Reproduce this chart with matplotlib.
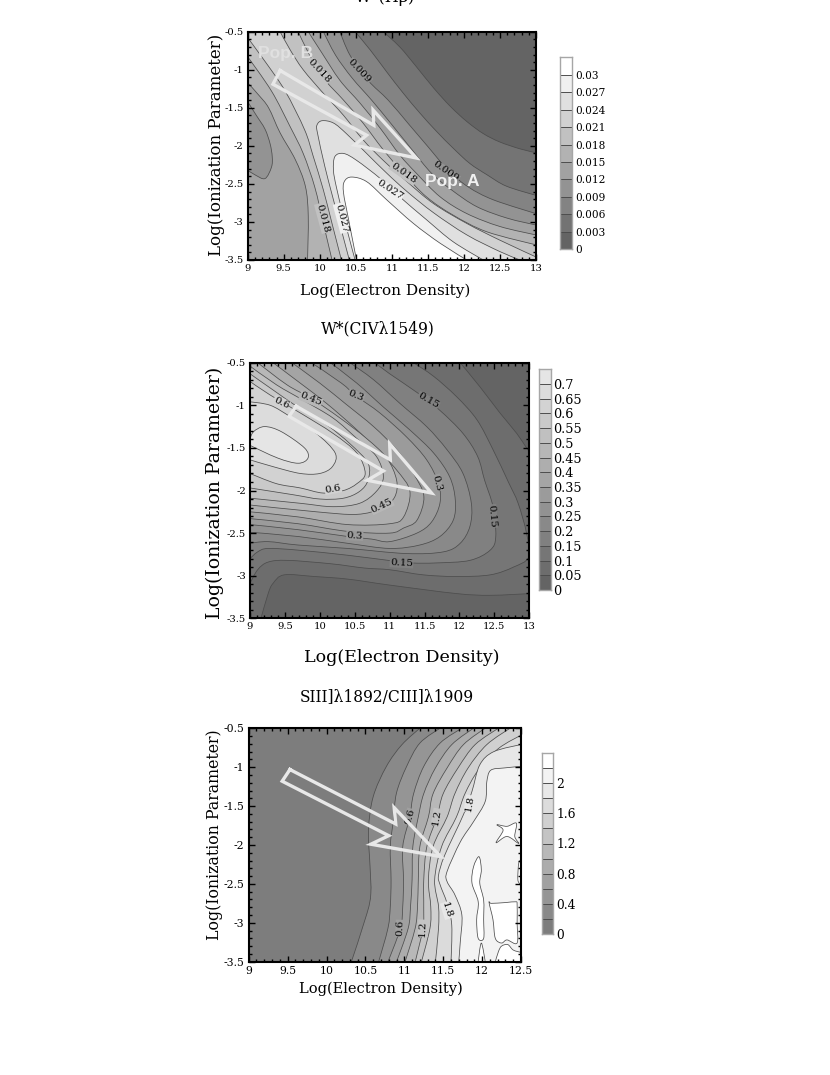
import numpy as np
import matplotlib
matplotlib.use("Agg")
import matplotlib.pyplot as plt
from matplotlib.patches import PathPatch
from matplotlib.path import Path
from matplotlib.ticker import AutoMinorLocator

plt.rcParams["font.family"] = ["DejaVu Serif"]

FIG_W, FIG_H = 830, 1075

y_ticks = [-0.5, -1, -1.5, -2, -2.5, -3, -3.5]
y_tick_labels = ["-0.5", "-1", "-1.5", "-2", "-2.5", "-3", "-3.5"]

# ---- W*(Hb) contours, each traced as the outline of the region >= level
hb_003 = [(10.88,-.5),(11.11,-.70),(11.34,-.96),(11.58,-1.24),(11.81,-1.48),(12.04,-1.68),(12.27,-1.84),(12.5,-1.95),(12.78,-2.04),(13,-2.09),(13,-3.5),(9,-3.5),(9,-.5)]
hb_006 = [(10.49,-.5),(10.70,-.74),(10.93,-1.03),(11.16,-1.31),(11.39,-1.57),(11.62,-1.81),(11.85,-2.03),(12.08,-2.23),(12.32,-2.38),(12.59,-2.53),(13,-2.65),(13,-3.5),(9,-3.5),(9,-.5)]
hb_009 = [(10.28,-.5),(10.42,-.81),(10.67,-1.14),(10.95,-1.40),(11.23,-1.71),(11.50,-2.01),(11.78,-2.32),(12.06,-2.54),(12.41,-2.71),(13,-2.89),(13,-3.5),(9,-3.5),(9,-.5)]
hb_012 = [(10.05,-.5),(10.22,-.81),(10.45,-1.11),(10.72,-1.40),(10.99,-1.71),(11.27,-2.04),(11.55,-2.36),(11.83,-2.58),(12.18,-2.80),(12.6,-2.95),(13,-3.04),(13,-3.5),(9,-3.5),(9,-.5)]
hb_lobe = [(9,-1.42),(9.12,-1.6),(9.24,-1.78),(9.31,-1.97),(9.34,-2.14),(9.33,-2.28),(9.24,-2.43),(9.1,-2.38),(9,-2.32)]
hb_015 = [(9,-1.17),(9.15,-1.33),(9.29,-1.50),(9.45,-1.83),(9.66,-2.18),(9.80,-2.53),(9.84,-2.92),(9.83,-3.5),(13,-3.5),(13,-3.17),(12.5,-3.06),(12.04,-2.89),(11.67,-2.67),(11.34,-2.36),(11.11,-2.12),(10.84,-1.77),(10.56,-1.44),(10.28,-1.14),(10.03,-.78),(9.84,-.5),(9,-.5)]
hb_018 = [(9,-.83),(9.33,-1.28),(9.59,-1.75),(9.77,-2.10),(9.93,-2.54),(10.05,-3.02),(10.17,-3.5),(13,-3.5),(13,-3.30),(12.32,-3.13),(11.85,-2.91),(11.48,-2.67),(11.16,-2.36),(10.88,-2.05),(10.60,-1.70),(10.33,-1.40),(10.05,-1.11),(9.86,-.81),(9.70,-.5),(9,-.5)]
hb_021 = [(9,-.58),(9.24,-.89),(9.52,-1.28),(9.79,-1.79),(9.91,-2.14),(10.05,-2.58),(10.17,-3.02),(10.30,-3.5),(13,-3.5),(13,-3.46),(12.5,-3.24),(12.04,-3.02),(11.58,-2.76),(11.21,-2.47),(10.88,-2.19),(10.60,-1.92),(10.33,-1.60),(10.05,-1.31),(9.77,-1.0),(9.59,-.74),(9.45,-.5),(9,-.5)]
hb_024 = [(10.41,-3.5),(10.19,-2.71),(10.07,-2.27),(9.97,-1.84),(9.96,-1.73),(10.03,-1.67),(10.19,-1.70),(10.37,-1.84),(10.65,-2.10),(10.93,-2.36),(11.21,-2.60),(11.58,-2.88),(12.04,-3.17),(12.5,-3.39),(12.78,-3.5)]
hb_027 = [(10.49,-3.5),(10.33,-2.93),(10.23,-2.54),(10.19,-2.32),(10.21,-2.14),(10.33,-2.10),(10.51,-2.19),(10.84,-2.43),(11.11,-2.67),(11.48,-2.97),(11.85,-3.26),(12.27,-3.5)]
hb_030 = [(10.51,-3.5),(10.40,-2.97),(10.33,-2.62),(10.34,-2.47),(10.44,-2.41),(10.65,-2.47),(10.93,-2.71),(11.30,-3.02),(11.67,-3.28),(12.04,-3.5)]
hb_levels = [0.003, 0.006, 0.009, 0.012, 0.009, 0.015, 0.018, 0.021, 0.024, 0.027, 0.030]
hb_shapes = [hb_003, hb_006, hb_009, hb_012, hb_lobe, hb_015, hb_018, hb_021, hb_024, hb_027, hb_030]
hb_arrow = [(9.45,-1.01),(9.35,-1.19),(10.65,-1.86),(10.48,-1.99),(11.34,-2.16),(10.74,-1.53),(10.75,-1.73)]
hb_label_text = ["0.018", "0.009", "0.018", "0.009", "0.027", "0.018", "0.027"]
hb_label_x = [9.99, 10.55, 11.16, 11.75, 10.97, 10.04, 10.30]
hb_label_y = [-1.02, -1.02, -2.36, -2.34, -2.58, -2.95, -2.95]
hb_label_rot = [-47, -47, -35, -35, -33, -75, -75]
hb_bar_ticks = [0, .003, .006, .009, .012, .015, .018, .021, .024, .027, .03]
hb_bar_labels = ["0", "0.003", "0.006", "0.009", "0.012", "0.015", "0.018", "0.021", "0.024", "0.027", "0.03"]
hb_x_ticks = [9, 9.5, 10, 10.5, 11, 11.5, 12, 12.5, 13]
hb_x_labels = ["9", "9.5", "10", "10.5", "11", "11.5", "12", "12.5", "13"]

# ---- W*(CIV) contours
civ_05 = [(12.01,-.5),(12.29,-.78),(12.58,-1.09),(12.82,-1.33),(12.96,-1.5),(13,-1.54),(13,-3.21),(12.44,-3.23),(11.96,-3.21),(11,-3.11),(10.40,-3.04),(9.93,-3.01),(9.49,-2.99),(9.33,-3.09),(9.26,-3.21),(9.16,-3.49),(9.15,-3.5),(9,-3.5),(9,-.5)]
civ_10 = [(11.34,-.5),(11.63,-.66),(11.96,-.90),(12.25,-1.17),(12.48,-1.52),(12.70,-1.90),(12.84,-2.15),(12.96,-2.50),(12.99,-2.78),(12.77,-2.90),(12.44,-2.99),(11.96,-3.01),(11.48,-2.99),(11.0,-2.93),(10.64,-2.91),(10.16,-2.86),(9.54,-2.82),(9.26,-2.84),(9.11,-2.93),(9,-3.09),(9,-.5)]
civ_15 = [(10.79,-.5),(11,-.63),(11.41,-.86),(11.72,-1.06),(12.05,-1.33),(12.26,-1.60),(12.36,-1.88),(12.48,-2.19),(12.52,-2.54),(12.44,-2.70),(12.15,-2.82),(11.67,-2.85),(11.31,-2.85),(10.98,-2.82),(10.40,-2.76),(9.69,-2.70),(9.26,-2.68),(9.11,-2.72),(9,-2.80),(9,-.5)]
civ_20 = [(10.43,-.5),(10.77,-.70),(11.15,-.98),(11.53,-1.25),(11.82,-1.52),(12.05,-1.80),(12.17,-2.15),(12.15,-2.42),(12.01,-2.62),(11.77,-2.72),(11.24,-2.74),(10.40,-2.68),(9.69,-2.64),(9.26,-2.60),(9,-2.62),(9,-.5)]
civ_25 = [(10.15,-.5),(10.53,-.74),(10.91,-1.02),(11.29,-1.29),(11.63,-1.56),(11.86,-1.84),(11.94,-2.11),(11.91,-2.35),(11.72,-2.54),(11.43,-2.64),(11,-2.68),(10.40,-2.62),(9.69,-2.54),(9,-2.49),(9,-.5)]
civ_30 = [(9.88,-.5),(10.31,-.74),(10.52,-.89),(10.86,-1.09),(11.24,-1.37),(11.53,-1.64),(11.70,-1.92),(11.72,-2.15),(11.60,-2.37),(11.39,-2.50),(11,-2.60),(10.74,-2.57),(10.40,-2.54),(9.69,-2.46),(9,-2.40),(9,-.5)]
civ_35 = [(9.60,-.5),(10,-.74),(10.38,-.99),(10.77,-1.25),(11.10,-1.52),(11.34,-1.80),(11.49,-2.07),(11.39,-2.35),(11.20,-2.44),(11,-2.50),(10.40,-2.48),(9.69,-2.39),(9,-2.33),(9,-.5)]
civ_40 = [(9.33,-.5),(9.72,-.74),(10.10,-.98),(10.48,-1.25),(10.81,-1.51),(11.10,-1.76),(11.29,-2.01),(11.20,-2.31),(11,-2.39),(10.40,-2.40),(9.69,-2.31),(9,-2.25),(9,-.5)]
civ_45 = [(9.11,-.5),(9.53,-.76),(9.88,-.92),(10.29,-1.15),(10.67,-1.39),(10.96,-1.62),(11.10,-1.88),(11.07,-2.08),(10.88,-2.21),(10.53,-2.28),(9.95,-2.25),(9,-2.17),(9,-.5)]
civ_50 = [(9,-.54),(9.38,-.76),(9.76,-.94),(10.19,-1.15),(10.53,-1.39),(10.81,-1.60),(10.91,-1.84),(10.81,-2.01),(10.57,-2.15),(10.19,-2.19),(9.72,-2.15),(9,-2.09)]
civ_55 = [(9,-.63),(9.33,-.82),(9.72,-1.04),(10.10,-1.23),(10.43,-1.45),(10.69,-1.68),(10.69,-1.88),(10.57,-2.01),(10.34,-2.09),(10,-2.10),(9.62,-2.05),(9,-1.97)]
civ_60 = [(9,-.72),(9.29,-.88),(9.72,-1.09),(10.19,-1.33),(10.53,-1.56),(10.65,-1.80),(10.53,-1.92),(10.34,-2.0),(10.05,-2.03),(9.72,-1.97),(9.38,-1.92),(9,-1.80)]
civ_65 = [(9,-.96),(9.29,-1.0),(9.57,-1.13),(9.95,-1.33),(10.22,-1.56),(10.18,-1.72),(10,-1.80),(9.72,-1.80),(9.33,-1.72),(9,-1.64)]
civ_70 = [(9,-1.40),(9.05,-1.31),(9.21,-1.25),(9.45,-1.31),(9.78,-1.50),(9.83,-1.62),(9.69,-1.68),(9.40,-1.62),(9,-1.47)]
civ_levels = [.05, .1, .15, .2, .25, .3, .35, .4, .45, .5, .55, .6, .65, .7]
civ_shapes = [civ_05, civ_10, civ_15, civ_20, civ_25, civ_30, civ_35, civ_40, civ_45, civ_50, civ_55, civ_60, civ_65, civ_70]
civ_arrow = [(9.66,-1.01),(9.56,-1.13),(10.91,-1.77),(10.68,-1.88),(11.60,-2.03),(11.0,-1.45),(11.01,-1.64)]
civ_label_text = ["0.15", "0.15", "0.15", "0.3", "0.3", "0.3", "0.45", "0.45", "0.6", "0.6"]
civ_label_x = [11.55, 11.17, 12.47, 10.52, 10.5, 11.68, 9.87, 10.89, 9.45, 10.19]
civ_label_y = [-.95, -2.85, -2.30, -.89, -2.53, -1.91, -.93, -2.18, -.97, -1.98]
civ_label_rot = [-30, -3, -85, -22, -3, -75, -22, 25, -25, 10]
civ_bar_ticks = [0, .05, .1, .15, .2, .25, .3, .35, .4, .45, .5, .55, .6, .65, .7]
civ_bar_labels = ["0", "0.05", "0.1", "0.15", "0.2", "0.25", "0.3", "0.35", "0.4", "0.45", "0.5", "0.55", "0.6", "0.65", "0.7"]

# ---- SiIII]/CIII] contours
si_02 = [(11.2,-.5),(10.97,-.71),(10.77,-.99),(10.60,-1.38),(10.54,-1.81),(10.56,-2.28),(10.57,-2.62),(10.52,-2.88),(10.32,-3.5),(12.5,-3.5),(12.5,-.5)]
si_04 = [(11.46,-.5),(11.2,-.69),(11.03,-.99),(10.9,-1.33),(10.86,-1.68),(10.82,-2.02),(10.83,-2.45),(10.82,-2.79),(10.79,-3.07),(10.67,-3.5),(12.5,-3.5),(12.5,-.5)]
si_06 = [(11.74,-.5),(11.46,-.69),(11.25,-.99),(11.12,-1.34),(11.07,-1.64),(10.98,-2.02),(10.99,-2.45),(10.98,-2.79),(10.95,-3.07),(10.79,-3.5),(12.5,-3.5),(12.5,-.5)]
si_08 = [(11.89,-.5),(11.61,-.71),(11.4,-1.01),(11.25,-1.34),(11.18,-1.64),(11.11,-2.02),(11.1,-2.45),(11.08,-2.79),(11.05,-3.07),(10.9,-3.5),(12.5,-3.5),(12.5,-.5)]
si_10 = [(12.04,-.5),(11.76,-.71),(11.55,-1.01),(11.37,-1.34),(11.31,-1.64),(11.2,-2.02),(11.18,-2.45),(11.17,-2.79),(11.14,-3.07),(11.01,-3.5),(12.5,-3.5),(12.5,-.5)]
si_12 = [(12.21,-.5),(11.91,-.71),(11.69,-1.01),(11.5,-1.34),(11.42,-1.64),(11.29,-2.02),(11.25,-2.45),(11.25,-2.79),(11.24,-3.07),(11.14,-3.5),(12.5,-3.5),(12.5,-.5)]
si_14 = [(12.36,-.5),(12.06,-.71),(11.82,-1.01),(11.65,-1.34),(11.55,-1.64),(11.37,-2.02),(11.31,-2.45),(11.34,-2.79),(11.33,-3.07),(11.22,-3.5),(12.5,-3.5),(12.5,-.5)]
si_16 = [(12.5,-.59),(12.21,-.76),(11.95,-1.04),(11.78,-1.34),(11.67,-1.64),(11.48,-2.02),(11.39,-2.45),(11.44,-2.79),(11.44,-3.07),(11.4,-3.5),(12.5,-3.5)]
si_18 = [(12.5,-.71),(12.15,-.80),(11.97,-.97),(11.87,-1.31),(11.76,-1.61),(11.52,-2.13),(11.44,-2.39),(11.46,-2.51),(11.55,-2.75),(11.61,-3.03),(11.6,-3.5),(12.5,-3.5)]
si_20 = [(12.5,-.99),(12.28,-1.01),(12.11,-1.04),(12.06,-1.19),(12.04,-1.44),(11.89,-1.70),(11.72,-1.96),(11.55,-2.34),(11.55,-2.47),(11.65,-2.64),(11.74,-2.90),(11.72,-3.24),(11.7,-3.5),(12.5,-3.5)]
si_22a = [(12.19,-1.74),(12.32,-1.76),(12.44,-1.72),(12.42,-1.89),(12.47,-1.98),(12.32,-1.89),(12.18,-1.97),(12.27,-1.81)]
si_22b = [(11.96,-2.15),(11.99,-2.32),(11.97,-2.49),(12.02,-2.71),(12.02,-2.96),(12.02,-3.2),(11.95,-3.2),(11.93,-2.96),(11.95,-2.73),(11.87,-2.49),(11.89,-2.28)]
si_22c = [(12.09,-2.74),(12.12,-2.75),(12.3,-2.74),(12.43,-2.73),(12.45,-2.76),(12.45,-3.0),(12.45,-3.26),(12.32,-3.22),(12.25,-3.26),(12.17,-3.2),(12.14,-2.96)]
si_22d = [(11.95,-3.5),(11.99,-3.26),(12.04,-3.5)]
si_22e = [(12.17,-3.5),(12.21,-3.37),(12.25,-3.3),(12.33,-3.28),(12.4,-3.35),(12.5,-3.38),(12.5,-3.5)]
si_22f = [(12.5,-2.19),(12.47,-2.24),(12.46,-2.45),(12.5,-2.51)]
si_levels = [.2, .4, .6, .8, 1.0, 1.2, 1.4, 1.6, 1.8, 2.0, 2.2, 2.2, 2.2, 2.2, 2.2, 2.2]
si_shapes = [si_02, si_04, si_06, si_08, si_10, si_12, si_14, si_16, si_18, si_20, si_22a, si_22b, si_22c, si_22d, si_22e, si_22f]
si_arrow = [(9.53,-1.03),(9.43,-1.18),(10.80,-1.88),(10.57,-1.99),(11.47,-2.15),(10.87,-1.52),(10.89,-1.73)]
si_label_text = ["0.6", "1.2", "1.8", "0.6", "1.2", "1.8"]
si_label_x = [11.07, 11.42, 11.84, 10.95, 11.24, 11.55]
si_label_y = [-1.64, -1.64, -1.47, -3.07, -3.07, -2.84]
si_label_rot = [75, 80, 80, 88, 88, -72]
si_bar_ticks = [0, .4, .8, 1.2, 1.6, 2]
si_bar_labels = ["0", "0.4", "0.8", "1.2", "1.6", "2"]
si_x_ticks = [9, 9.5, 10, 10.5, 11, 11.5, 12, 12.5]
si_x_labels = ["9", "9.5", "10", "10.5", "11", "11.5", "12", "12.5"]


def box(left, top, right, bottom):
    # pixel box of the reference -> figure fractions
    return [left / FIG_W, 1 - bottom / FIG_H, (right - left) / FIG_W, (bottom - top) / FIG_H]


def outline(pts, xmax):
    # closed bezier through the read points, no tangent where it meets the frame
    p = np.array(pts, dtype=float)
    n = len(p)
    frame = (p[:, 0] == 9) | (p[:, 0] == xmax) | (p[:, 1] == -.5) | (p[:, 1] == -3.5)
    t = (np.roll(p, -1, axis=0) - np.roll(p, 1, axis=0)) / 6
    t[frame] = 0
    verts = [p[0]]
    codes = [Path.MOVETO]
    for i in range(n):
        j = (i + 1) % n
        verts += [p[i] + t[i], p[j] - t[j], p[j]]
        codes += [Path.CURVE4] * 3
    return Path(verts, codes)


def panel(fig, rect, xmax, x_ticks, x_labels, levels, shapes, arrow, step, g0, dg, labs, tick_size):
    ax = fig.add_axes(box(*rect))
    gray = lambda lev: str((g0 + dg * round(lev / step)) / 255)
    ax.set_facecolor(gray(0))
    for lev, pts in zip(levels, shapes):
        ax.add_patch(PathPatch(outline(pts, xmax), facecolor=gray(lev), edgecolor="0.3", lw=0.55, zorder=1))
    for s, x, y, r in zip(*labs):
        ax.text(x, y, s, rotation=r, rotation_mode="anchor", ha="center", va="center", fontsize=7.4,
                color="black", zorder=3, bbox=dict(fc=gray(float(s)), ec="none", pad=0.3))
    a = np.array(arrow + arrow[:1])
    ax.plot(a[:, 0], a[:, 1], color="0.91", lw=2.4, solid_joinstyle="miter", zorder=4)
    ax.set_xlim(9, xmax)
    ax.set_ylim(-3.5, -0.5)
    ax.set_xticks(x_ticks, x_labels, fontsize=tick_size)
    ax.set_yticks(y_ticks, y_tick_labels, fontsize=tick_size)
    ax.xaxis.set_minor_locator(AutoMinorLocator(5))
    ax.yaxis.set_minor_locator(AutoMinorLocator(5))
    ax.tick_params(which="major", direction="in", top=True, right=True, length=4, width=1, pad=3)
    ax.tick_params(which="minor", direction="in", top=True, right=True, length=2, width=1)
    for sp in ax.spines.values():
        sp.set_linewidth(1.5)
    return ax


def colorbar(fig, rect, step, nbands, g0, dg, ticks, labels, size):
    cax = fig.add_axes(box(*rect))
    edges = np.arange(nbands + 1) * step
    vals = (g0 + dg * np.arange(nbands))[:, None]
    cax.pcolormesh([0, 1], edges, vals, cmap="gray", vmin=0, vmax=255)
    cax.hlines(edges[1:-1], 0, 1, color="0.3", lw=0.7)
    cax.set_xlim(0, 1)
    cax.set_ylim(0, edges[-1])
    cax.set_xticks([])
    cax.yaxis.tick_right()
    cax.set_yticks(ticks, labels, fontsize=size)
    cax.tick_params(length=0, pad=2)
    for sp in cax.spines.values():
        sp.set_color("0.65")
        sp.set_linewidth(1)
    return cax


def pxtext(fig, x, y, s, size, **kw):
    return fig.text(x / FIG_W, 1 - y / FIG_H, s, fontsize=size, ha="center", va="center", **kw)


fig = plt.figure(figsize=(8.3, 10.75), dpi=100)

# top panel
ax1 = panel(fig, (247.7, 31.7, 536, 260), 13, hb_x_ticks, hb_x_labels, hb_levels, hb_shapes, hb_arrow,
            0.003, 100, 15.5, (hb_label_text, hb_label_x, hb_label_y, hb_label_rot), 7.2)
ax1.text(9.53, -.79, "Pop. B", color="0.88", fontsize=12.5, fontweight="bold", family="Liberation Sans",
         ha="center", va="center", zorder=5)
ax1.text(11.84, -2.47, "Pop. A", color="0.94", fontsize=12.5, fontweight="bold", family="Liberation Sans",
         ha="center", va="center", zorder=5)
colorbar(fig, (560, 57.3, 572.3, 249.3), 0.003, 11, 100, 15.5, hb_bar_ticks, hb_bar_labels, 7.6)
pxtext(fig, 385, -3, "W*(Hβ)", 11.5)
pxtext(fig, 385, 291, "Log(Electron Density)", 11)
pxtext(fig, 216, 145, "Log(Ionization Parameter)", 12, rotation=90)

# middle panel
ax2 = panel(fig, (250, 362.7, 529.3, 618.3), 13, hb_x_ticks, hb_x_labels, civ_levels, civ_shapes, civ_arrow,
            0.05, 100, 9.2, (civ_label_text, civ_label_x, civ_label_y, civ_label_rot), 7.2)
colorbar(fig, (539, 369.3, 550.7, 590), 0.05, 15, 100, 9.2, civ_bar_ticks, civ_bar_labels, 9.2)
pxtext(fig, 378, 329, "W*(CIVλ1549)", 11.2)
pxtext(fig, 402, 657, "Log(Electron Density)", 12.6)
pxtext(fig, 215, 493, "Log(Ionization Parameter)", 13.6, rotation=90)

# bottom panel
ax3 = panel(fig, (248.7, 728.3, 521, 961.7), 12.5, si_x_ticks, si_x_labels, si_levels, si_shapes, si_arrow,
            0.2, 125, 11.8, (si_label_text, si_label_x, si_label_y, si_label_rot), 7.8)
colorbar(fig, (542.3, 752.7, 553.3, 934.3), 0.2, 12, 125, 11.8, si_bar_ticks, si_bar_labels, 8.8)
pxtext(fig, 387, 697, "SIII]λ1892/CIII]λ1909", 11.2)
pxtext(fig, 381, 989, "Log(Electron Density)", 10.5)
pxtext(fig, 214, 835, "Log(Ionization Parameter)", 11.3, rotation=90)

fig.savefig("out.png", dpi=100)
